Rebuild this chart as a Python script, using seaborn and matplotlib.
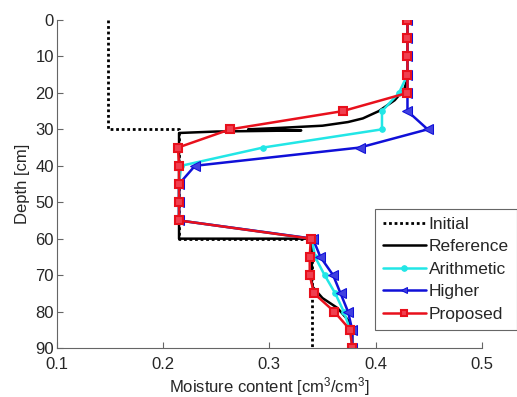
import numpy as np
import pandas as pd
import matplotlib
matplotlib.use("Agg")
import matplotlib.pyplot as plt
import seaborn as sns

# ---- data ----
depth_nodes = [0, 5, 10, 15, 20, 25, 30, 35, 40, 45, 50, 55, 60, 65, 70, 75, 80, 85, 90]

initial_depth = [0, 30, 30, 60, 60, 90]
initial_theta = [0.148, 0.148, 0.215, 0.215, 0.340, 0.340]

reference_depth = [0, 16, 19, 22, 25, 27, 28, 29, 29.6, 30.0, 30.3, 30.6, 31,
                   60, 60, 72, 73.3, 76.3, 79, 82.3, 85, 90]
reference_theta = [0.430, 0.430, 0.427, 0.418, 0.403, 0.388, 0.374, 0.350, 0.310, 0.280, 0.330, 0.250, 0.215,
                   0.215, 0.340, 0.340, 0.341, 0.350, 0.364, 0.374, 0.378, 0.378]

arithmetic_theta = [0.430, 0.430, 0.430, 0.430, 0.422, 0.406, 0.406, 0.294, 0.217, 0.215,
                    0.215, 0.215, 0.340, 0.343, 0.352, 0.362, 0.370, 0.376, 0.378]
higher_theta = [0.430, 0.430, 0.430, 0.430, 0.430, 0.430, 0.449, 0.385, 0.230, 0.215,
                0.215, 0.215, 0.341, 0.348, 0.360, 0.367, 0.374, 0.378, 0.378]
proposed_theta = [0.430, 0.430, 0.430, 0.430, 0.430, 0.369, 0.263, 0.214, 0.215, 0.215,
                  0.215, 0.215, 0.339, 0.338, 0.338, 0.342, 0.361, 0.376, 0.378]

x_ticks = [0.1, 0.2, 0.3, 0.4, 0.5]
y_ticks = [0, 10, 20, 30, 40, 50, 60, 70, 80, 90]

# ---- style ----
sns.set_style("white")
plt.rcParams['font.family'] = ['Liberation Sans', 'DejaVu Sans']
plt.rcParams['mathtext.fontset'] = 'custom'
plt.rcParams['mathtext.rm'] = 'Liberation Sans'
plt.rcParams['mathtext.it'] = 'Liberation Sans'

fig = plt.figure(figsize=(5.17, 3.97), dpi=100)
ax = fig.add_axes([0.110, 0.1234, 0.822, 0.8262])

sns.lineplot(x=initial_theta, y=initial_depth, sort=False, estimator=None, ax=ax,
             color='black', linestyle=(0, (1, 1)), linewidth=2.0, label='Initial')
sns.lineplot(x=reference_theta, y=reference_depth, sort=False, estimator=None, ax=ax,
             color='black', linewidth=1.8, label='Reference')
sns.lineplot(x=arithmetic_theta, y=depth_nodes, sort=False, estimator=None, ax=ax,
             color='#22e6e6', linewidth=1.8, marker='o', markersize=4,
             markeredgecolor='#22e6e6', label='Arithmetic')
sns.lineplot(x=higher_theta, y=depth_nodes, sort=False, estimator=None, ax=ax,
             color='#1010d8', linewidth=1.8, marker='<', markersize=7,
             markeredgecolor='#1010d8', markerfacecolor='#4040e0', label='Higher')
sns.lineplot(x=proposed_theta, y=depth_nodes, sort=False, estimator=None, ax=ax,
             color='#e8101c', linewidth=1.8, marker='s', markersize=6,
             markeredgecolor='#e8101c', markerfacecolor='#f04050', markeredgewidth=1.5,
             label='Proposed')

ax.set_xlim(0.1, 0.5)
ax.set_ylim(90, 0)
ax.set_xticks(x_ticks)
ax.set_xticklabels([f"{v:.1f}" for v in x_ticks])
ax.set_yticks(y_ticks)
ax.set_yticklabels([str(v) for v in y_ticks])
ax.tick_params(direction='in', length=4, width=0.8, color='#666666', labelsize=12,
               left=True, bottom=True)
ax.tick_params(axis='x', pad=6.5)
ax.tick_params(axis='y', pad=2)

for s in ['top', 'right']:
    ax.spines[s].set_visible(False)
for s in ['left', 'bottom']:
    ax.spines[s].set_color('#666666')
    ax.spines[s].set_linewidth(0.8)

ax.set_xlabel('Moisture content [cm$^3$/cm$^3$]', fontsize=12, labelpad=2)
ax.set_ylabel('Depth [cm]', fontsize=12, labelpad=4)

leg = ax.legend(loc='upper left', bbox_to_anchor=(0.725, 0.4736),
                bbox_transform=fig.transFigure, fontsize=12.5, frameon=True,
                fancybox=False, edgecolor='#666666', framealpha=1,
                handlelength=2.5, labelspacing=0.42, borderpad=0.45,
                handletextpad=0.15, borderaxespad=0)
leg.get_frame().set_linewidth(0.8)
for h in leg.legend_handles:
    try:
        h.set_markersize(4)
    except Exception:
        pass

fig.savefig('out.png', dpi=100)
